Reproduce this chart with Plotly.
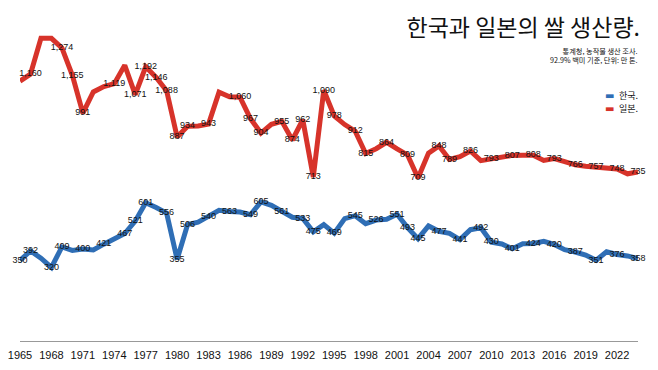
import plotly.graph_objects as go

years = list(range(1965, 2025))

korea = [350, 392, 360, 320, 409, 394, 400, 396, 421, 445,
         467, 521, 601, 580, 556, 355, 506, 517, 540, 568,
         563, 561, 549, 605, 590, 561, 538, 533, 475, 506,
         469, 532, 545, 510, 526, 529, 551, 493, 445, 500,
         477, 468, 441, 484, 492, 430, 422, 401, 423, 424,
         433, 420, 397, 387, 374, 351, 388, 376, 370, 358]

japan = [1130, 1160, 1316, 1316, 1274, 1155, 991, 1083, 1106, 1119,
         1199, 1071, 1192, 1146, 1088, 887, 934, 935, 943, 1082,
         1062, 1060, 967, 904, 942, 955, 874, 962, 713, 1090,
         978, 941, 912, 815, 836, 864, 835, 809, 709, 817,
         848, 789, 801, 826, 784, 793, 800, 807, 808, 808,
         785, 793, 780, 766, 760, 757, 755, 748, 727, 735]

korea_label_years = [1965, 1966, 1968, 1969, 1971, 1973, 1975, 1976, 1977, 1979,
                     1980, 1981, 1983, 1985, 1987, 1988, 1990, 1992, 1993, 1995,
                     1997, 1999, 2001, 2002, 2003, 2005, 2007, 2009, 2010, 2012,
                     2014, 2016, 2018, 2020, 2022, 2024]
japan_label_years = [1966, 1969, 1970, 1971, 1974, 1976, 1977, 1978, 1979, 1980,
                     1981, 1983, 1986, 1987, 1988, 1990, 1991, 1992, 1993, 1994,
                     1995, 1997, 1998, 2000, 2002, 2003, 2005, 2006, 2008, 2010,
                     2012, 2014, 2016, 2018, 2020, 2022, 2024]

tick_years = list(range(1965, 2023, 3))

series_names = ["한국.", "일본."]
colors = ["#2f6eb5", "#d7332a"]
title_text = "한국과 일본의 쌀 생산량."
subtitle_lines = ["통계청, 농작물 생산 조사.", "92.9% 백미 기준, 단위: 만 톤."]

# page body has an 8px default margin; offsets below compensate for it
W, H = 658, 370
L, T, R, B = 12, 11, 28, 37


def fmt(v):
    return f"{v:,}"


def labels(values, label_years):
    return [fmt(v) if y in label_years else "" for y, v in zip(years, values)]


fig = go.Figure()
for name, vals, lab_years, col in [
    (series_names[0], korea, korea_label_years, colors[0]),
    (series_names[1], japan, japan_label_years, colors[1]),
]:
    fig.add_trace(go.Scatter(
        x=years, y=vals, name=name, mode="lines+text",
        line=dict(color=col, width=5),
        text=labels(vals, lab_years), textposition="middle center",
        textfont=dict(family="Liberation Sans, Arial, sans-serif", size=9, color="#111"),
        cliponaxis=False, hoverinfo="x+y", showlegend=False,
    ))

fig.update_layout(
    width=W, height=H,
    margin=dict(l=L, r=R, t=T, b=B, autoexpand=False),
    paper_bgcolor="white", plot_bgcolor="white",
    font=dict(family="Liberation Sans, Noto Sans CJK KR, sans-serif", color="#111"),
    title=dict(text=title_text, x=(640 - 8) / W, xanchor="right", xref="container",
               y=1 - (28 - 8) / H, yanchor="middle", yref="container",
               font=dict(family="Noto Sans CJK KR", size=23, color="#111")),
    showlegend=False,
    xaxis=dict(range=[1965, 2024], tickvals=tick_years, showgrid=False, zeroline=False,
               showline=True, linecolor="#999", linewidth=1, ticks="",
               ticklabelstandoff=4, ticklabeloverflow="allow",
               tickfont=dict(family="Liberation Sans, Arial, sans-serif", size=11, color="#111")),
    yaxis=dict(range=[0, 1400], visible=False, showgrid=False, zeroline=False),
)

fig.add_annotation(text="<br>".join(subtitle_lines), xref="paper", yref="paper",
                   x=1, y=(341 - 44) / 322, xanchor="right", yanchor="top", align="right",
                   showarrow=False, xshift=2,
                   font=dict(family="Noto Sans CJK KR", size=7.2, color="#111"))

# legend drawn as text entries (colored bar glyph + series name)
for i, (name, col) in enumerate(zip(series_names, colors)):
    fig.add_annotation(
        text=f"<span style='color:{col};font-family:DejaVu Sans;font-size:10px'>▬</span>\u2002{name}",
        xref="paper", yref="paper", x=1, y=(341 - 95 - 13 * i) / 322,
        xanchor="right", yanchor="middle", showarrow=False, xshift=2,
        font=dict(family="Noto Sans CJK KR", size=9, color="#111"))

fig.write_html("out.html")
